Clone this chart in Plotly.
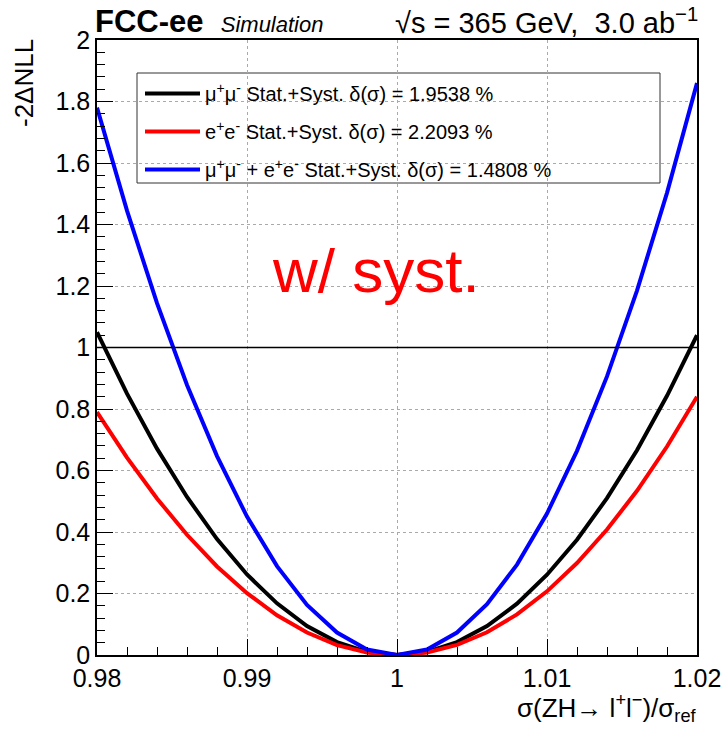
import plotly.graph_objects as go

x_vals = [0.980, 0.982, 0.984, 0.986, 0.988, 0.990, 0.992, 0.994, 0.996, 0.998, 1.000,
          1.002, 1.004, 1.006, 1.008, 1.010, 1.012, 1.014, 1.016, 1.018, 1.020]
mumu = [1.050, 0.850, 0.671, 0.514, 0.377, 0.262, 0.168, 0.094, 0.042, 0.010, 0.000,
        0.010, 0.042, 0.094, 0.167, 0.261, 0.375, 0.510, 0.666, 0.843, 1.040]
ee = [0.790, 0.642, 0.509, 0.391, 0.288, 0.201, 0.129, 0.073, 0.032, 0.008, 0.000,
      0.008, 0.033, 0.074, 0.132, 0.207, 0.299, 0.408, 0.534, 0.678, 0.840]
comb = [1.780, 1.445, 1.144, 0.878, 0.647, 0.450, 0.289, 0.163, 0.073, 0.018, 0.000,
        0.018, 0.073, 0.165, 0.294, 0.460, 0.664, 0.906, 1.185, 1.503, 1.860]

names = ["μ<sup>+</sup>μ<sup>-</sup> Stat.+Syst. δ(σ) = 1.9538 %",
         "e<sup>+</sup>e<sup>-</sup> Stat.+Syst. δ(σ) = 2.2093 %",
         "μ<sup>+</sup>μ<sup>-</sup> + e<sup>+</sup>e<sup>-</sup> Stat.+Syst. δ(σ) = 1.4808 %"]
colors = ["#000000", "#ff0000", "#0000ff"]
series = [mumu, ee, comb]

x_ticks = [0.98, 0.99, 1.0, 1.01, 1.02]
x_ticktext = ["0.98", "0.99", "1", "1.01", "1.02"]
y_ticks = [0, 0.2, 0.4, 0.6, 0.8, 1, 1.2, 1.4, 1.6, 1.8, 2]
y_ticktext = ["0", "0.2", "0.4", "0.6", "0.8", "1", "1.2", "1.4", "1.6", "1.8", "2"]

FONT = "Liberation Sans, Arial, Helvetica, sans-serif"

fig = go.Figure()
for i, (ys, nm, c) in enumerate(zip(series, names, colors)):
    fig.add_trace(go.Scatter(x=x_vals, y=ys, mode="lines", name=nm, legendgroup=f"g{i}",
                             line=dict(color=c, width=4)))

fig.add_shape(type="line", xref="x", yref="y", x0=0.98, x1=1.02, y0=1, y1=1,
              line=dict(color="black", width=1.5))
# legend box
fig.add_shape(type="rect", xref="paper", yref="paper",
              x0=(137 - 97) / 600, x1=(660 - 97) / 600,
              y0=(655 - 183) / 615, y1=(655 - 73) / 615,
              line=dict(color="#333333", width=1), fillcolor="white", layer="below")

axis_common = dict(ticks="inside", ticklen=16, tickcolor="black", tickwidth=1,
                   showline=True, linecolor="black", linewidth=1.5, mirror=True,
                   showgrid=True, gridcolor="#aaaaaa", griddash="dot", gridwidth=1,
                   zeroline=False, tickfont=dict(size=25), automargin=False)

fig.update_layout(
    width=723, height=730,
    margin=dict(l=97, r=26, t=40, b=75),
    paper_bgcolor="white", plot_bgcolor="white",
    font=dict(family=FONT, color="black", size=20),
    showlegend=True,
    legend=dict(x=(140 - 97) / 600, y=(655 - 74) / 615, xanchor="left", yanchor="top",
                bgcolor="rgba(0,0,0,0)", borderwidth=0,
                font=dict(size=20, family=FONT), tracegroupgap=9, itemwidth=55),
    xaxis=dict(range=[0.98, 1.02], tickvals=x_ticks, ticktext=x_ticktext, **axis_common,
               minor=dict(dtick=0.002, ticks="inside", ticklen=8, tickcolor="black", showgrid=False)),
    yaxis=dict(range=[0, 2], tickvals=y_ticks, ticktext=y_ticktext, **axis_common,
               minor=dict(dtick=0.04, ticks="inside", ticklen=8, tickcolor="black", showgrid=False)),
)

fig.add_annotation(xref="paper", yref="paper", x=(699 - 97) / 600, y=(655 - 708) / 615,
                   xanchor="right", yanchor="middle",
                   text="σ(ZH→ l<sup>+</sup>l<sup>−</sup>)/σ<sub>ref</sub>", showarrow=False,
                   font=dict(size=26))
fig.add_annotation(xref="paper", yref="paper", x=(24 - 97) / 600, y=(655 - 37) / 615,
                   xanchor="center", yanchor="top",
                   text="-2ΔNLL", textangle=-90, showarrow=False, font=dict(size=26))
fig.add_annotation(xref="paper", yref="paper", x=(93 - 97) / 600, y=1.0, xanchor="left",
                   yanchor="bottom", yshift=-1,
                   text="<b>FCC-ee</b>  <i><span style='font-size:22px'>Simulation</span></i>",
                   showarrow=False, font=dict(size=31))
fig.add_annotation(xref="paper", yref="paper", x=(700 - 97) / 600, y=1.0, xanchor="right",
                   yanchor="bottom", yshift=-1,
                   text="√s = 365 GeV,  3.0 ab<sup>−1</sup>", showarrow=False, font=dict(size=29))
fig.add_annotation(xref="paper", yref="paper", x=(376 - 97) / 600, y=(655 - 270) / 615,
                   text="w/ syst.", showarrow=False, font=dict(size=62, color="#ff0000"))

fig.write_html("out.html")
